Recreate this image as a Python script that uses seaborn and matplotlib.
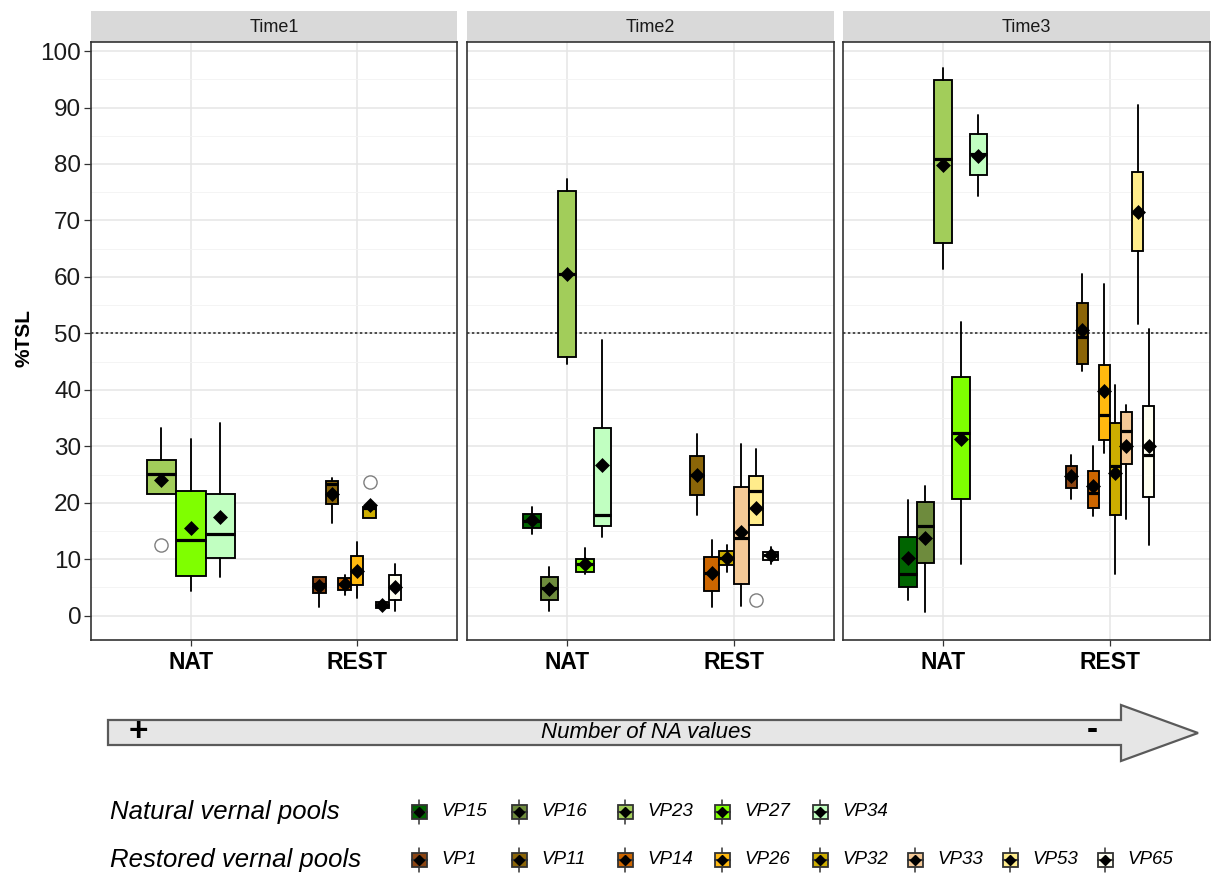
import matplotlib
matplotlib.use("Agg")
import matplotlib.pyplot as plt
import numpy as np
import pandas as pd
import seaborn as sns
from matplotlib.patches import Rectangle, Polygon

# ---------------------------------------------------------------- data
times = ["Time1", "Time2", "Time3"]
groups = ["NAT", "REST"]
natural_pools = ["VP15", "VP16", "VP23", "VP27", "VP34"]
restored_pools = ["VP1", "VP11", "VP14", "VP26", "VP32", "VP33", "VP53", "VP65"]
pool_colors = {
    "VP15": "#006400", "VP16": "#6E8B3D", "VP23": "#A2CD5A", "VP27": "#7FFF00",
    "VP34": "#C1FFC1", "VP1": "#8B4513", "VP11": "#8B6508", "VP14": "#CD6600",
    "VP26": "#FFB90F", "VP32": "#CDAD00", "VP33": "#F5C996", "VP53": "#FFEC8B",
    "VP65": "#FFFFF0",
}

# Time1
t1_nat_pools = ["VP23", "VP27", "VP34"]
t1_nat_low = [21.6, 4.3, 6.8]
t1_nat_q1 = [21.6, 7.0, 10.3]
t1_nat_med = [25.1, 13.4, 14.4]
t1_nat_q3 = [27.5, 22.0, 21.5]
t1_nat_high = [33.3, 31.3, 34.1]
t1_nat_mean = [24.0, 15.6, 17.4]
t1_nat_out = [[12.6], [], []]

t1_rest_pools = ["VP1", "VP11", "VP14", "VP26", "VP32", "VP33", "VP65"]
t1_rest_low = [1.6, 16.5, 3.7, 3.1, 17.3, 1.3, 0.9]
t1_rest_q1 = [4.0, 19.8, 4.5, 5.5, 17.3, 1.4, 2.8]
t1_rest_med = [5.6, 23.4, 5.6, 7.9, 19.1, 1.9, 5.1]
t1_rest_q3 = [6.9, 23.9, 6.7, 10.5, 19.3, 2.5, 7.2]
t1_rest_high = [6.9, 24.4, 7.2, 13.0, 19.3, 2.6, 9.2]
t1_rest_mean = [5.2, 21.5, 5.6, 8.0, 19.6, 1.9, 5.1]
t1_rest_out = [[], [], [], [], [23.7], [], []]

# Time2
t2_nat_pools = ["VP15", "VP16", "VP23", "VP27", "VP34"]
t2_nat_low = [14.4, 0.8, 44.5, 7.4, 14.0]
t2_nat_q1 = [15.5, 2.7, 45.9, 7.7, 15.8]
t2_nat_med = [16.8, 4.9, 60.6, 9.1, 17.8]
t2_nat_q3 = [18.1, 6.8, 75.3, 10.0, 33.3]
t2_nat_high = [19.3, 8.7, 77.3, 12.0, 48.9]
t2_nat_mean = [17.0, 4.7, 60.6, 9.1, 26.7]
t2_nat_out = [[], [], [], [], []]

t2_rest_pools = ["VP11", "VP14", "VP32", "VP33", "VP53", "VP65"]
t2_rest_low = [17.8, 1.5, 7.7, 1.8, 16.1, 9.2]
t2_rest_q1 = [21.4, 4.4, 9.0, 5.6, 16.1, 9.9]
t2_rest_med = [24.9, 7.5, 10.2, 13.7, 22.0, 10.7]
t2_rest_q3 = [28.3, 10.4, 11.4, 22.8, 24.7, 11.2]
t2_rest_high = [32.1, 13.4, 12.5, 30.4, 29.6, 12.1]
t2_rest_mean = [24.9, 7.5, 10.2, 14.8, 19.0, 10.7]
t2_rest_out = [[], [], [], [], [2.8], []]

# Time3
t3_nat_pools = ["VP15", "VP16", "VP23", "VP27", "VP34"]
t3_nat_low = [2.7, 0.6, 61.4, 9.1, 74.3]
t3_nat_q1 = [5.0, 9.3, 66.0, 20.7, 78.0]
t3_nat_med = [7.4, 15.8, 80.8, 32.4, 81.7]
t3_nat_q3 = [14.0, 20.2, 94.8, 42.3, 85.3]
t3_nat_high = [20.5, 23.0, 97.0, 52.0, 88.6]
t3_nat_mean = [10.3, 13.7, 79.9, 31.3, 81.5]
t3_nat_out = [[], [], [], [], []]

t3_rest_pools = ["VP1", "VP11", "VP14", "VP26", "VP32", "VP33", "VP53", "VP65"]
t3_rest_low = [20.7, 43.3, 17.6, 28.8, 7.3, 17.2, 51.6, 12.6]
t3_rest_q1 = [22.6, 44.5, 19.0, 31.1, 17.8, 26.9, 64.6, 21.1]
t3_rest_med = [24.7, 49.3, 21.7, 35.6, 26.6, 32.8, 71.5, 28.4]
t3_rest_q3 = [26.6, 55.3, 25.6, 44.4, 34.1, 36.0, 78.5, 37.1]
t3_rest_high = [28.4, 60.6, 30.1, 58.8, 40.8, 37.3, 90.4, 50.7]
t3_rest_mean = [24.7, 50.6, 22.9, 39.8, 25.3, 30.1, 71.5, 30.1]
t3_rest_out = [[], [], [], [], [], [], [], []]

panels = {
    ("Time1", "NAT"): (t1_nat_pools, t1_nat_low, t1_nat_q1, t1_nat_med, t1_nat_q3, t1_nat_high, t1_nat_mean, t1_nat_out),
    ("Time1", "REST"): (t1_rest_pools, t1_rest_low, t1_rest_q1, t1_rest_med, t1_rest_q3, t1_rest_high, t1_rest_mean, t1_rest_out),
    ("Time2", "NAT"): (t2_nat_pools, t2_nat_low, t2_nat_q1, t2_nat_med, t2_nat_q3, t2_nat_high, t2_nat_mean, t2_nat_out),
    ("Time2", "REST"): (t2_rest_pools, t2_rest_low, t2_rest_q1, t2_rest_med, t2_rest_q3, t2_rest_high, t2_rest_mean, t2_rest_out),
    ("Time3", "NAT"): (t3_nat_pools, t3_nat_low, t3_nat_q1, t3_nat_med, t3_nat_q3, t3_nat_high, t3_nat_mean, t3_nat_out),
    ("Time3", "REST"): (t3_rest_pools, t3_rest_low, t3_rest_q1, t3_rest_med, t3_rest_q3, t3_rest_high, t3_rest_mean, t3_rest_out),
}

# ---------------------------------------------------------------- style
sns.set_theme(style="whitegrid")
plt.rcParams["font.family"] = ["Liberation Sans", "DejaVu Sans"]

W, H = 1212, 875
fig = plt.figure(figsize=(W / 100, H / 100), dpi=100)

# full-figure pixel canvas for strips, arrow and legend
ov = fig.add_axes([0, 0, 1, 1], zorder=0)
ov.set_xlim(0, W)
ov.set_ylim(H, 0)
ov.axis("off")
ov.patch.set_alpha(0)

panel_x = [(91, 457), (467, 834), (843, 1210)]
panel_top, panel_bot = 42, 640
strip_top = 11
dodge_width = 0.53
ylim = (-4.3, 101.6)


def px_rect(x0, x1, y0, y1):
    return [x0 / W, 1 - y1 / H, (x1 - x0) / W, (y1 - y0) / H]


for ti, time in enumerate(times):
    x0, x1 = panel_x[ti]
    ax = fig.add_axes(px_rect(x0, x1, panel_top, panel_bot), zorder=1)
    ax.set_facecolor("white")
    ax.set_xlim(-0.6, 1.6)
    ax.set_ylim(*ylim)

    mean_rows = []
    for gi, grp in enumerate(groups):
        pools, lo, q1, med, q3, hi, mean, out = panels[(time, grp)]
        n = len(pools)
        bw = dodge_width / n
        pos = [gi - dodge_width / 2 + (i + 0.5) * bw for i in range(n)]
        stats = [dict(whislo=lo[i], q1=q1[i], med=med[i], q3=q3[i], whishi=hi[i],
                      fliers=out[i], label=pools[i]) for i in range(n)]
        bp = ax.bxp(stats, positions=pos, widths=bw, patch_artist=True,
                    showcaps=False, showfliers=True, manage_ticks=False,
                    boxprops=dict(edgecolor="black", linewidth=1.35),
                    whiskerprops=dict(color="black", linewidth=1.35),
                    medianprops=dict(color="black", linewidth=2.3),
                    flierprops=dict(marker="o", markerfacecolor="none",
                                    markeredgecolor="#7F7F7F", markersize=9.5,
                                    markeredgewidth=1.0))
        for patch, p in zip(bp["boxes"], pools):
            patch.set_facecolor(pool_colors[p])
        for i in range(n):
            mean_rows.append({"x": pos[i], "mean": mean[i], "pool": pools[i]})

    mdf = pd.DataFrame(mean_rows)
    sns.scatterplot(data=mdf, x="x", y="mean", marker="D", color="black",
                    s=58, linewidth=0, ax=ax, legend=False, zorder=5)

    # reference line at 50 %
    ax.axhline(50, color="#222222", linewidth=1.1, linestyle=(0, (1.6, 1.6)),
               zorder=1.5)

    # grid
    ax.set_axisbelow(True)
    ax.set_yticks(np.arange(0, 101, 10))
    ax.set_yticks(np.arange(5, 100, 10), minor=True)
    ax.set_xticks([0, 1])
    ax.grid(which="major", color="#E5E5E5", linewidth=1.1)
    ax.grid(which="minor", axis="y", color="#F3F3F3", linewidth=0.6)
    ax.set_xlabel("")
    ax.set_ylabel("")
    ax.set_xticklabels(groups, fontsize=16.5, fontweight="bold", color="black")
    ax.tick_params(axis="x", which="major", length=4, width=0.9, color="#333333",
                   pad=4, bottom=True)
    ax.tick_params(axis="y", which="minor", length=0, left=False)
    if ti == 0:
        ax.set_yticklabels([str(v) for v in range(0, 101, 10)], fontsize=17.5,
                           color="#1A1A1A")
        ax.tick_params(axis="y", which="major", length=5, width=0.9,
                       color="#333333", pad=2, left=True)
    else:
        ax.set_yticklabels([])
        ax.tick_params(axis="y", which="major", length=0)
    for sp in ax.spines.values():
        sp.set_visible(True)
        sp.set_color("#333333")
        sp.set_linewidth(1.2)

    # facet strip
    ov.add_patch(Rectangle((x0, strip_top), x1 - x0, panel_top - strip_top,
                           facecolor="#D9D9D9", edgecolor="none"))
    ov.text((x0 + x1) / 2, (strip_top + panel_top) / 2 + 1, time, ha="center",
            va="center", fontsize=13, color="#1A1A1A")

# y-axis title
ov.text(24, 338, "%TSL", rotation=90, ha="center", va="center",
        fontsize=15, fontweight="bold", color="black")

# ---------------------------------------------------------------- arrow
arrow_pts = [(108, 720), (1121, 720), (1121, 705), (1198, 733),
             (1121, 761), (1121, 745), (108, 745)]
ov.add_patch(Polygon(arrow_pts, closed=True, facecolor="#E6E6E6",
                     edgecolor="#5A5A5A", linewidth=1.6, joinstyle="miter"))
ov.text(646, 733, "Number of NA values", ha="center", va="center",
        fontsize=16, style="italic", color="black")
ov.text(138, 733, "+", ha="center", va="center", fontsize=24,
        fontweight="bold", color="black")
ov.text(1092, 731, "-", ha="center", va="center", fontsize=24,
        fontweight="bold", color="black")

# ---------------------------------------------------------------- legend
key_x = [419, 519, 625, 722, 820, 915, 1010, 1105]
rows = [("Natural vernal pools", natural_pools, 812),
        ("Restored vernal pools", restored_pools, 860)]
for title, pools, cy in rows:
    ov.text(110, cy, title, ha="left", va="center", fontsize=18.5,
            style="italic", color="black")
    for p, cx in zip(pools, key_x):
        bw_px, bh_px = 15, 14
        ov.plot([cx, cx], [cy - 12, cy + 12], color="#333333", linewidth=1.1,
                zorder=2)
        ov.add_patch(Rectangle((cx - bw_px / 2, cy - bh_px / 2), bw_px, bh_px,
                               facecolor=pool_colors[p], edgecolor="#333333",
                               linewidth=1.3, zorder=3))
        ov.plot([cx - bw_px / 2, cx + bw_px / 2], [cy, cy], color="#333333",
                linewidth=1.5, zorder=4)
        ov.plot([cx], [cy], marker="D", color="black", markersize=5, zorder=5)
        ov.text(cx + 22, cy, p, ha="left", va="center", fontsize=13.5,
                style="italic", color="black")

fig.savefig("out.png", dpi=100)
